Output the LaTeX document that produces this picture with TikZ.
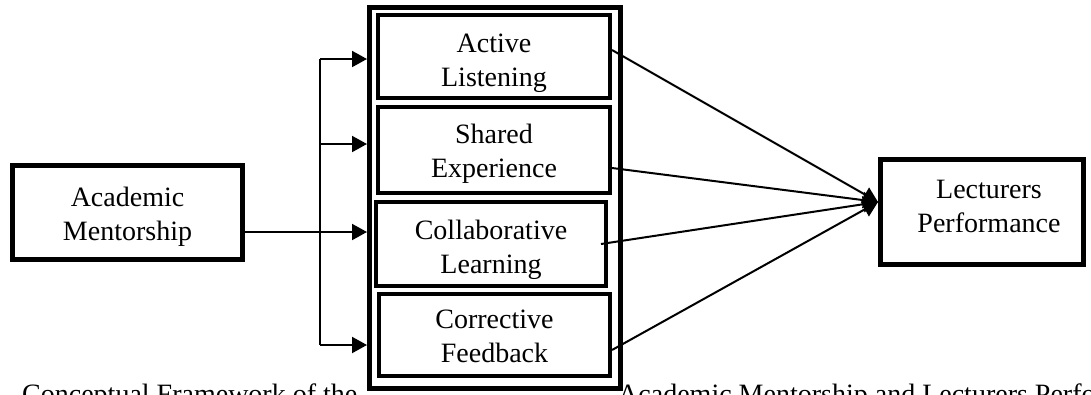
\documentclass[tikz,border=0pt]{standalone}
\usepackage{fontspec}
\setmainfont{Liberation Serif}
\usetikzlibrary{arrows.meta}

\begin{document}
\begin{tikzpicture}[x=1pt, y=-1pt,
  box/.style={draw, line width=4pt, fill=white, inner sep=0pt},
  txt/.style={align=center, inner sep=0pt, font=\fontsize{28}{34}\selectfont},
  link/.style={line width=2pt, -{Triangle[length=15pt, width=16pt]}}]
  \useasboundingbox (0,0) rectangle (1091,394);
  \clip (0,0) rectangle (1091,394);
  % caption runs under the frame and off the page
  \node[txt, anchor=base west] (capl) at (22,403) {Conceptual Framework of the};
  \node[txt, anchor=base west] (capr) at (618,403) {Academic Mentorship and Lecturers Performance};
  % frame round the four dimensions
  \node[draw, line width=5pt, fill=white, minimum width=251pt, minimum height=381pt] (frame) at (495,198) {};
  \node[box, minimum width=232pt, minimum height=83pt,
    label={[txt, yshift=-7pt]center:Active\\Listening}] (listen) at (494,56.5) {};
  \node[box, minimum width=232pt, minimum height=86pt,
    label={[txt, yshift=-3.5pt]center:Shared\\Experience}] (shared) at (494,150) {};
  \node[box, minimum width=230pt, minimum height=84pt,
    label={[txt, yshift=-5.5pt]center:Collaborative\\Learning}] (collab) at (491,244) {};
  \node[box, minimum width=231pt, minimum height=82pt,
    label={[txt, yshift=-1pt]center:Corrective\\Feedback}] (correct) at (494.5,335) {};
  \node[box, line width=5pt, minimum width=230pt, minimum height=94pt,
    label={[txt, yshift=-4pt]center:Academic\\Mentorship}] (ment) at (127.5,212.5) {};
  \node[box, line width=5pt, minimum width=203pt, minimum height=105pt,
    label={[txt, xshift=7pt, yshift=6pt]center:Lecturers\\Performance}] (perf) at (982,212) {};
  % bracket feeding the dimensions
  \coordinate (b1) at (320,59);
  \coordinate (b2) at (320,144);
  \coordinate (b3) at (320,345);
  \draw[line width=2pt] (b1) -- (b3);
  \foreach \b in {b1,b2,b3}
    \draw[link] (\b) -- (\b -| frame.west);
  \draw[link] ([yshift=-19.5pt]ment.east) -- ([yshift=-19.5pt]ment.east -| frame.west);
  % all four lead to performance
  \coordinate (hub) at ([yshift=10pt]perf.west);
  \draw[link] ([yshift=6.5pt]listen.east) -- (hub);
  \draw[link] ([yshift=-18pt]shared.east) -- (hub);
  \draw[link] ([xshift=-7pt]collab.east) -- (hub);
  \draw[link] ([yshift=-15pt]correct.east) -- (hub);
\end{tikzpicture}
\end{document}
